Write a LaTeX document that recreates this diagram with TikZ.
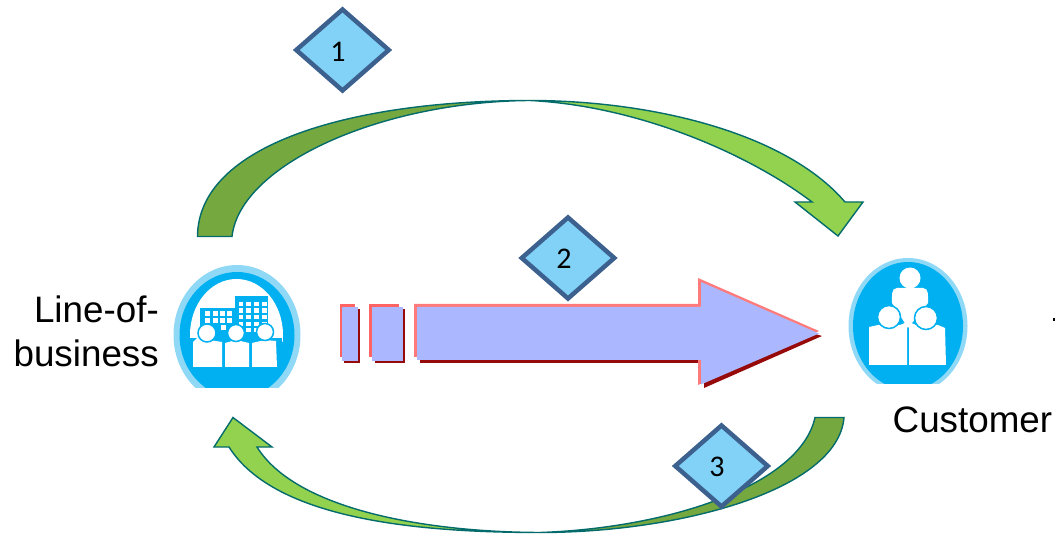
\documentclass[tikz,border=0pt]{standalone}
\usepackage{fontspec}
\setmainfont{Liberation Sans}
\newfontfamily\digitfont{Carlito}
\usetikzlibrary{shapes.geometric}
\definecolor{edgeteal}{HTML}{036B6B}
\definecolor{darkgreen}{HTML}{76A840}
\definecolor{lightgreen}{HTML}{92D24F}
\definecolor{diamfill}{HTML}{82D2F7}
\definecolor{diamedge}{HTML}{3D618F}
\definecolor{barfill}{HTML}{ABB7FF}
\definecolor{barred}{HTML}{FF6464}
\definecolor{bardark}{HTML}{960A0A}
\definecolor{iconblue}{HTML}{00B0F0}
\definecolor{iconlight}{HTML}{8FD9F6}
\tikzset{
  diam/.style={diamond,draw=diamedge,fill=diamfill,line width=4.5pt,inner sep=0pt,outer sep=0pt,minimum width=92.5pt,minimum height=81pt},
  digit/.style={font=\digitfont\fontsize{30}{32}\selectfont,text=black,inner sep=0pt},
  lab/.style={font=\fontsize{36.8}{44.5}\selectfont,text=black,inner sep=0pt,align=right},
  blockd/.style={draw=edgeteal,line width=1.4pt,fill=darkgreen,line join=miter},
  blockl/.style={draw=edgeteal,line width=1.4pt,fill=lightgreen,line join=miter},
  ww/.style={fill=white,draw=none},
  iconline/.style={fill=white,draw=iconblue,line width=1.5pt},
  iconbody/.style={fill=white,draw=none}
}
\begin{document}
\begin{tikzpicture}[x=1pt,y=-1pt]
\useasboundingbox (0,0) rectangle (1055,534);
% ---- arrow 1
\draw[blockd] (197.5,236.5) .. controls (198,145) and (350,100.5) .. (530,100.5)
  .. controls (380,101.5) and (240,165) .. (232,236.5) -- cycle;
\draw[blockl] (530,100.5) .. controls (650,100.5) and (785,132) .. (845,202)
  -- (863,202) -- (838,236) -- (795,202) -- (812,202)
  .. controls (750,155) and (640,106) .. (530,100.5) -- cycle;
% ---- arrow 3
\draw[blockd] (844,417.5) .. controls (838,490) and (680,532.5) .. (540,532.5)
  .. controls (670,528) and (800,485) .. (815,417.5) -- cycle;
\draw[blockl] (540,532.5) .. controls (420,532.5) and (275,520) .. (229,447)
  -- (214,447) -- (233,417.5) -- (272,447) -- (257,447)
  .. controls (295,508) and (420,532) .. (540,532.5) -- cycle;
% ---- dashed block arrow
\fill[bardark] (344,309) rectangle (360,363);
\fill[barred] (340,304) rectangle (355,357);
\fill[barfill] (342,307) rectangle (358,361);
\fill[bardark] (375,309) rectangle (405,363);
\fill[barred] (369,304) rectangle (399,357);
\fill[barfill] (372,307) rectangle (403,361);
\fill[bardark] (420,309) -- (704,309) -- (704,300) -- (822,336) -- (704,388) -- (704,363) -- (420,363) -- cycle;
\fill[barred!85!white] (414,304) -- (698,304) -- (698,278) -- (819,331) -- (698,385) -- (698,357) -- (414,357) -- cycle;
\fill[barfill] (417,307) -- (701,307) -- (701,282) -- (819,333.5) -- (701,384.5) -- (701,360) -- (417,360) -- cycle;
% ---- diamonds
\node[diam] (d1) at (342.5,50) {};
\node[diam] (d2) at (568,258) {};
\node[diam] (d3) at (721.5,466) {};
\node[digit] (t1) at (338,52) {1};
\node[digit] (t2) at (564,259) {2};
\node[digit] (t3) at (717,467) {3};
% ---- left icon
\begin{scope}
\clip (160,250) rectangle (310,388);
\fill[iconlight] (237,335) ellipse [x radius=63.5,y radius=70];
\fill[iconblue] (237,335) ellipse [x radius=57.5,y radius=63];
\begin{scope}
\clip (180,270) rectangle (295,342);
\fill[white] (236.5,335) ellipse [x radius=46.5,y radius=56];
\end{scope}
\fill[iconblue] (235,296) rectangle (268,342);
\fill[iconblue] (200,308) rectangle (236,342);
\foreach \wx in {238.5,246,254,262}
  \foreach \wy in {302,308.5,315,322,328}
    \fill[ww] (\wx,\wy) rectangle +(4.5,4.5);
\foreach \wx in {205,212.5,220,226.5}
  \foreach \wy in {311,318}
    \fill[ww] (\wx,\wy) rectangle +(5,5);
\fill[ww] (221,325) rectangle +(5,5);
\fill[iconblue] (188,338) rectangle (282,345);
\fill[iconbody] (193,367) -- (193,342) -- (197,338) -- (222,342) -- (222,367) -- cycle;
\fill[iconbody] (225,367) -- (225,343) -- (236,340) -- (249,343) -- (249,367) -- cycle;
\fill[iconbody] (252,367) -- (252,343) -- (265,340) -- (276,341) -- (277,367) -- cycle;
\draw[iconline] (207,333) circle (9);
\draw[iconline] (236,333) circle (8.5);
\draw[iconline] (265,332) circle (8.5);
\end{scope}
% ---- right icon
\begin{scope}
\clip (840,250) rectangle (975,384);
\fill[iconlight] (908,326) ellipse [x radius=59.5,y radius=68];
\fill[iconblue] (908,326) ellipse [x radius=55,y radius=64];
\fill[iconbody] (892,303) to[out=90,in=180] (897,288) -- (923,288) to[out=0,in=90] (928,303) -- (908,328) -- cycle;
\fill[iconbody] (910,278) circle (10.5);
\fill[iconbody] (869,365) -- (869,327) -- (878,325) -- (900,325) -- (907,322) -- (907,365) -- cycle;
\fill[iconbody] (909,365) -- (909,322) -- (916,325) -- (938,325) -- (945,328) -- (946,365) -- cycle;
\draw[iconline] (889,317) circle (11.5);
\draw[iconline] (926,318) circle (11.5);
\end{scope}
% ---- labels
\node[lab,anchor=base east] (lob) at (159,367) {Line-of-\\business};
\node[lab,anchor=base west] (cust) at (892.5,432) {Customer};
\fill[black] (1053.3,318.5) rectangle (1055,321);
\end{tikzpicture}
\end{document}
